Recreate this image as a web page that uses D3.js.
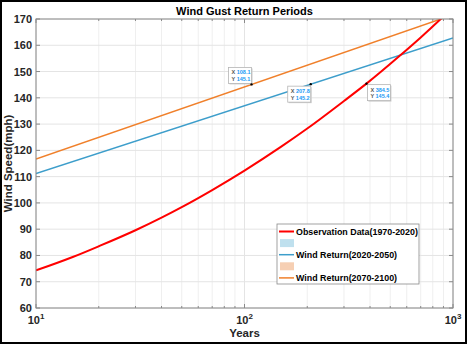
<!DOCTYPE html>
<head>
    <title>Wind Gust Return Periods</title>
    <script src="https://cdn.jsdelivr.net/npm/d3@7"></script>
    <style>
        body {
            margin: 0;
            background-color: #fff;
        }
        svg text {
            font-family: "Liberation Sans", Arial, sans-serif;
            font-weight: bold;
        }
    </style>
</head>
<body>
    <svg></svg>

    <script type="text/javascript">
        // observation curve
        const obsYears = [10, 15, 20, 30, 40, 50, 70, 100, 150, 200, 300, 384.5, 557, 700, 873, 1000]
        const obsSpeed = [74.3, 79.4, 83.5, 89.6, 94.4, 98.4, 104.9, 112.3, 121.4, 128.3, 138.8, 145.4, 156.1, 163.0, 170.0, 174.5]

        // return level lines (straight on log x)
        const midYears = [10, 1000]
        const midSpeed = [111.2, 162.8]
        const lateYears = [10, 1000]
        const lateSpeed = [116.7, 171.6]

        // data tips
        const tipX = [108.1, 207.8, 384.5]
        const tipY = [145.1, 145.2, 145.4]

        const yTicks = [60, 70, 80, 90, 100, 110, 120, 130, 140, 150, 160, 170]
        const xTicks = [10, 100, 1000]
        const xMinor = [20, 30, 40, 50, 60, 70, 80, 90, 200, 300, 400, 500, 600, 700, 800, 900]

        const legendLabels = ['Observation Data(1970-2020)', '', 'Wind Return(2020-2050)', '', 'Wind Return(2070-2100)']

        const W = 470, H = 345
        const margin = { left: 36, top: 19, right: 17, bottom: 37 }
        const pw = W - margin.left - margin.right
        const ph = H - margin.top - margin.bottom

        const red = '#ff0000', blue = '#3d9ecb', orange = '#f0802b'

        let svg = d3.select('svg').attr('width', W).attr('height', H)

        // figure frame
        svg.append('rect')
            .attr('x', 1).attr('y', 1).attr('width', 465).attr('height', 342)
            .attr('fill', 'none').attr('stroke', '#000').attr('stroke-width', 2)

        let x = d3.scaleLog().domain([10, 1000]).range([0, pw])
        let y = d3.scaleLinear().domain([60, 170]).range([ph, 0])

        let g = svg.append('g').attr('transform', `translate(${margin.left},${margin.top})`)

        g.append('rect').attr('width', pw).attr('height', ph).attr('fill', '#fff')

        // grid
        g.append('g').selectAll('line').data(xMinor).enter().append('line')
            .attr('x1', d => x(d)).attr('x2', d => x(d)).attr('y1', 0).attr('y2', ph)
            .attr('stroke', '#efefef')
        g.append('g').selectAll('line').data(xTicks).enter().append('line')
            .attr('x1', d => x(d)).attr('x2', d => x(d)).attr('y1', 0).attr('y2', ph)
            .attr('stroke', '#e4e4e4')
        g.append('g').selectAll('line').data(yTicks).enter().append('line')
            .attr('x1', 0).attr('x2', pw).attr('y1', d => y(d)).attr('y2', d => y(d))
            .attr('stroke', '#e4e4e4')

        // ticks pointing inward on all four sides
        let tickCol = '#8a8a8a'
        let tk = g.append('g').attr('stroke', tickCol)
        yTicks.forEach(v => {
            tk.append('line').attr('x1', 0).attr('x2', 4).attr('y1', y(v)).attr('y2', y(v))
            tk.append('line').attr('x1', pw).attr('x2', pw - 4).attr('y1', y(v)).attr('y2', y(v))
        })
        xTicks.concat(xMinor).forEach(v => {
            let len = xTicks.includes(v) ? 4 : 2
            tk.append('line').attr('x1', x(v)).attr('x2', x(v)).attr('y1', ph).attr('y2', ph - len)
            tk.append('line').attr('x1', x(v)).attr('x2', x(v)).attr('y1', 0).attr('y2', len)
        })

        // series
        let clip = svg.append('defs').append('clipPath').attr('id', 'plotclip')
        clip.append('rect').attr('width', pw).attr('height', ph)

        let line = d3.line().x(d => x(d[0])).y(d => y(d[1])).curve(d3.curveMonotoneX)
        let series = g.append('g').attr('clip-path', 'url(#plotclip)')
        series.append('path').datum(lateYears.map((v, i) => [v, lateSpeed[i]]))
            .attr('d', line).attr('fill', 'none').attr('stroke', orange).attr('stroke-width', 1.5)
        series.append('path').datum(midYears.map((v, i) => [v, midSpeed[i]]))
            .attr('d', line).attr('fill', 'none').attr('stroke', blue).attr('stroke-width', 1.5)
        series.append('path').datum(obsYears.map((v, i) => [v, obsSpeed[i]]))
            .attr('d', line).attr('fill', 'none').attr('stroke', red).attr('stroke-width', 2)

        // axis box
        g.append('rect').attr('width', pw).attr('height', ph)
            .attr('fill', 'none').attr('stroke', tickCol).attr('stroke-width', 1)

        // tick labels
        g.append('g').selectAll('text').data(yTicks).enter().append('text')
            .attr('x', -4).attr('y', d => y(d) + 4)
            .attr('text-anchor', 'end').attr('font-size', 11).attr('fill', '#262626')
            .text(d => d)
        let xl = g.append('g').selectAll('text').data(xTicks).enter().append('text')
            .attr('x', d => x(d)).attr('y', ph + 16)
            .attr('text-anchor', 'middle').attr('font-size', 11).attr('fill', '#262626')
        xl.append('tspan').text('10')
        xl.append('tspan').attr('dy', -5).attr('font-size', 8).text(d => Math.round(Math.log10(d)))

        // titles
        svg.append('text').attr('x', margin.left + pw / 2).attr('y', 15)
            .attr('text-anchor', 'middle').attr('font-size', 11).attr('fill', '#000')
            .text('Wind Gust Return Periods')
        svg.append('text').attr('x', margin.left + pw / 2).attr('y', 337)
            .attr('text-anchor', 'middle').attr('font-size', 11.5).attr('fill', '#262626')
            .text('Years')
        svg.append('text')
            .attr('transform', `translate(12,${margin.top + ph / 2}) rotate(-90)`)
            .attr('text-anchor', 'middle').attr('font-size', 11.5).attr('fill', '#262626')
            .text('Wind Speed(mph)')

        // data tips: box offset relative to the point
        let tipOffsets = [[-23, -17], [-23, 2], [1, 1]]
        let tips = g.append('g')
        tipX.forEach((tx, i) => {
            let px = x(tx), py = y(tipY[i])
            let bx = px + tipOffsets[i][0], by = py + tipOffsets[i][1]
            tips.append('rect').attr('x', bx + 1).attr('y', by + 1).attr('width', 23).attr('height', 16)
                .attr('fill', '#cfcfcf')
            tips.append('rect').attr('x', bx).attr('y', by).attr('width', 23).attr('height', 16)
                .attr('fill', '#fff').attr('stroke', '#b5b5b5').attr('stroke-width', 0.8)
            let t1 = tips.append('text').attr('x', bx + 3).attr('y', by + 7).attr('font-size', 5.5)
            t1.append('tspan').attr('fill', '#555').text('X ')
            t1.append('tspan').attr('fill', '#1a9af5').text(tx.toFixed(1))
            let t2 = tips.append('text').attr('x', bx + 3).attr('y', by + 13.5).attr('font-size', 5.5)
            t2.append('tspan').attr('fill', '#555').text('Y ')
            t2.append('tspan').attr('fill', '#1a9af5').text(tipY[i].toFixed(1))
            tips.append('circle').attr('cx', px).attr('cy', py).attr('r', 1.2).attr('fill', '#000')
        })

        // legend
        let lg = svg.append('g').attr('transform', 'translate(277,224)')
        lg.append('rect').attr('width', 142).attr('height', 60)
            .attr('fill', '#fff').attr('stroke', '#8a8a8a').attr('stroke-width', 0.8)
        let kinds = ['line', 'patch', 'line', 'patch', 'line']
        let colors = [red, '#bfe0ee', blue, '#f6cfb3', orange]
        legendLabels.forEach((lab, i) => {
            let cy = 7.5 + i * 11.6
            if (kinds[i] === 'line') {
                lg.append('line').attr('x1', 2).attr('x2', 17).attr('y1', cy).attr('y2', cy)
                    .attr('stroke', colors[i]).attr('stroke-width', i === 0 ? 2 : 1.5)
            } else {
                lg.append('rect').attr('x', 3).attr('y', cy - 4).attr('width', 14).attr('height', 8)
                    .attr('fill', colors[i])
            }
            lg.append('text').attr('x', 19).attr('y', cy + 3.3).attr('font-size', 8.9)
                .attr('fill', '#000').text(lab)
        })
    </script>
</body>
